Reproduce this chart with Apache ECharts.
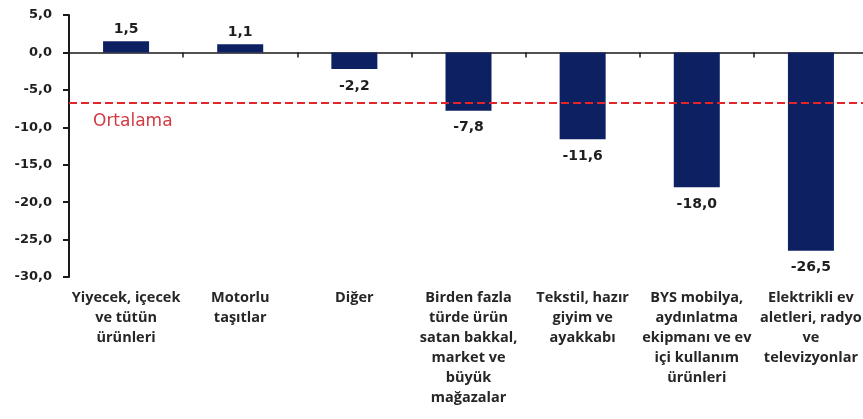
<!DOCTYPE html>
<html>
<head>
<meta charset="utf-8">
<script src="https://cdn.jsdelivr.net/npm/echarts@6/dist/echarts.min.js"></script>
<style>
html,body{margin:0;padding:0;background:#fff;}
#chart{width:863px;height:419px;}
</style>
</head>
<body>
<div id="chart"></div>
<script>
const categories = [
  "Yiyecek, içecek\nve tütün\nürünleri",
  "Motorlu\ntaşıtlar",
  "Diğer",
  "Birden fazla\ntürde ürün\nsatan bakkal,\nmarket ve\nbüyük\nmağazalar",
  "Tekstil, hazır\ngiyim ve\nayakkabı",
  "BYS mobilya,\naydınlatma\nekipmanı ve ev\niçi kullanım\nürünleri",
  "Elektrikli ev\naletleri, radyo\nve\ntelevizyonlar"
];
const values = [1.5, 1.1, -2.2, -7.8, -11.6, -18.0, -26.5];
const averageValue = -6.7;
const averageLabel = "Ortalama";
const yMin = -30, yMax = 5, yStep = 5;

const fmt = v => Number(v).toFixed(1).replace('.', ',');
const NUMFONT = 'DejaVu Sans';
const CATFONT = 'Open Sans';
const TXT = '#1e1e1e';

const chart = echarts.init(document.getElementById('chart'), null, {renderer: 'canvas'});
chart.setOption({
  animation: false,
  backgroundColor: '#ffffff',
  grid: {left: 69, width: 799, top: 15, height: 262, containLabel: false, outerBoundsMode: 'none'},
  xAxis: [
    {
      type: 'category', data: categories, position: 'top',
      axisLine: {onZero: true, lineStyle: {color: '#1a1a1a', width: 1.5}},
      axisTick: {show: true, inside: true, length: 5, alignWithLabel: false, lineStyle: {color: '#1a1a1a', width: 1.5}},
      axisLabel: {show: false},
      splitLine: {show: false}
    },
    {
      type: 'category', data: categories, position: 'bottom',
      axisLine: {show: false, onZero: false},
      axisTick: {show: false},
      axisLabel: {show: true, interval: 0, margin: 11, fontFamily: CATFONT, fontWeight: 'bold', fontSize: 14.5, lineHeight: 20, color: '#262626', align: 'center', hideOverlap: false},
      splitLine: {show: false}
    }
  ],
  yAxis: {
    type: 'value', min: yMin, max: yMax, interval: yStep,
    axisLine: {show: true, lineStyle: {color: '#1a1a1a', width: 2}},
    axisTick: {show: true, length: 6, lineStyle: {color: '#1a1a1a', width: 2}},
    axisLabel: {formatter: fmt, fontFamily: NUMFONT, fontWeight: 'bold', fontSize: 13, color: TXT, margin: 17},
    splitLine: {show: false}
  },
  series: [{
    type: 'bar',
    xAxisIndex: 0,
    barWidth: 46,
    itemStyle: {color: '#0c2062'},
    data: values.map(v => ({
      value: v,
      label: {position: v >= 0 ? 'top' : 'bottom', distance: v >= 0 ? 5 : 10}
    })),
    label: {
      show: true, formatter: p => fmt(p.value),
      fontFamily: NUMFONT, fontWeight: 'bold', fontSize: 14, color: TXT
    },
    markLine: {
      silent: true, symbol: ['none', 'none'],
      lineStyle: {color: '#e3242b', width: 2, type: [8, 4]},
      label: {
        show: true, position: 'insideStartBottom', formatter: averageLabel,
        color: '#d23a44', fontFamily: NUMFONT, fontSize: 17, distance: [24, 10]
      },
      data: [{yAxis: averageValue}]
    }
  }]
});
</script>
</body>
</html>
